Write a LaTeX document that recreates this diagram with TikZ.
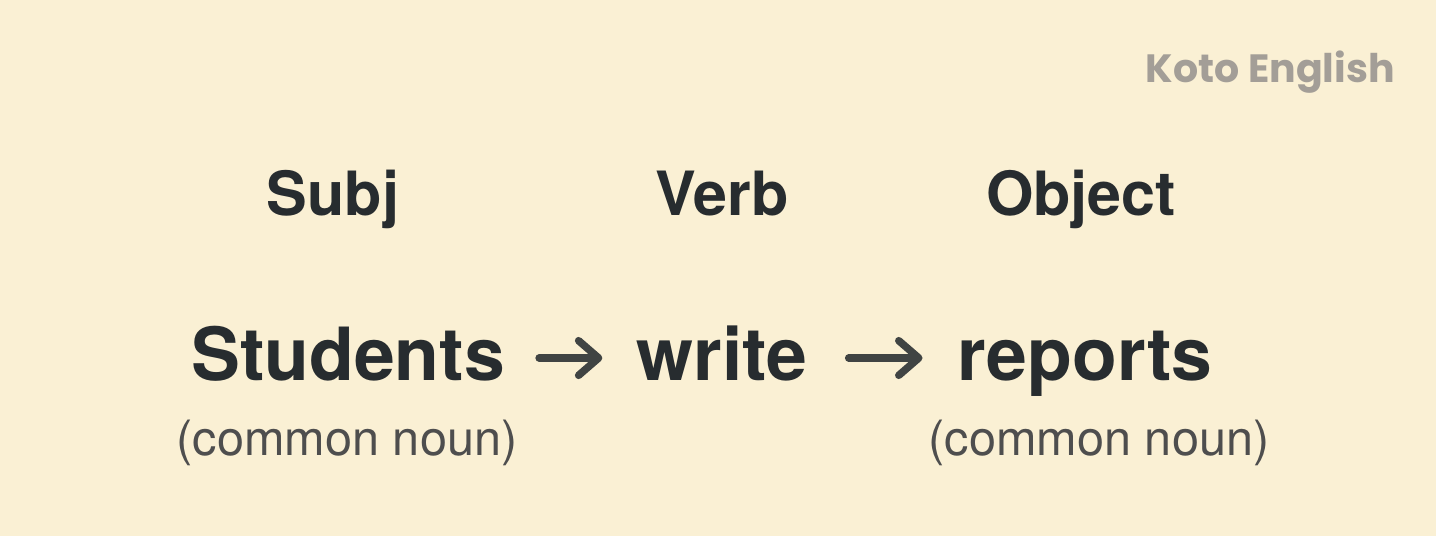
\documentclass[tikz,border=0pt]{standalone}
\usepackage{fontspec}
\setmainfont{TeX Gyre Heros}
\newfontfamily\logofont{Poppins}
\usetikzlibrary{arrows.meta,calc}
\definecolor{bgcol}{HTML}{FAF0D4}
\definecolor{inkcol}{HTML}{272C2F}
\definecolor{subcol}{HTML}{4E4E4E}
\definecolor{logocol}{HTML}{A39E97}
\tikzset{
  head/.style={inner sep=0pt, anchor=base, text=inkcol, font=\fontsize{45.75pt}{50pt}\selectfont\bfseries},
  word/.style={inner sep=0pt, anchor=base, text=inkcol, font=\fontsize{55pt}{60pt}\selectfont\bfseries},
  note/.style={inner sep=0pt, anchor=base, text=subcol, font=\fontsize{36.5pt}{40pt}\selectfont},
  logo/.style={inner sep=0pt, anchor=base east, text=logocol, font=\logofont\fontsize{29.6pt}{34pt}\selectfont\bfseries},
  arr/.style={draw=inkcol!88!bgcol, line width=5.6pt, line cap=round,
    -{Straight Barb[length=15pt, width=26pt, line cap=round, line join=round]}}
}
\begin{document}
\begin{tikzpicture}[x=0.75pt, y=-0.75pt]
  \fill[bgcol] (0,0) rectangle (1436,536);
  \useasboundingbox (0,0) rectangle (1436,536);
  \node[logo] (logo) at (1395,82) {Koto English};
  \node[head] (subj) at (333,215) {Subj};
  \node[head] (verb) at (722,215) {Verb};
  \node[head] (obj) at (1081,215) {Object};
  \node[word] (students) at (348,380) {Students};
  \node[word] (write) at (722,380) {write};
  \node[word] (reports) at (1085,380) {reports};
  \node[note] (n1) at (347,455) {(common noun)};
  \node[note] (n2) at (1099,455) {(common noun)};
  \draw[arr] ($(students.base east)+(34,-22)$) -- ($(write.base west)+(-34,-22)$);
  \draw[arr] ($(write.base east)+(41,-22)$) -- ($(reports.base west)+(-35,-22)$);
\end{tikzpicture}
\end{document}
